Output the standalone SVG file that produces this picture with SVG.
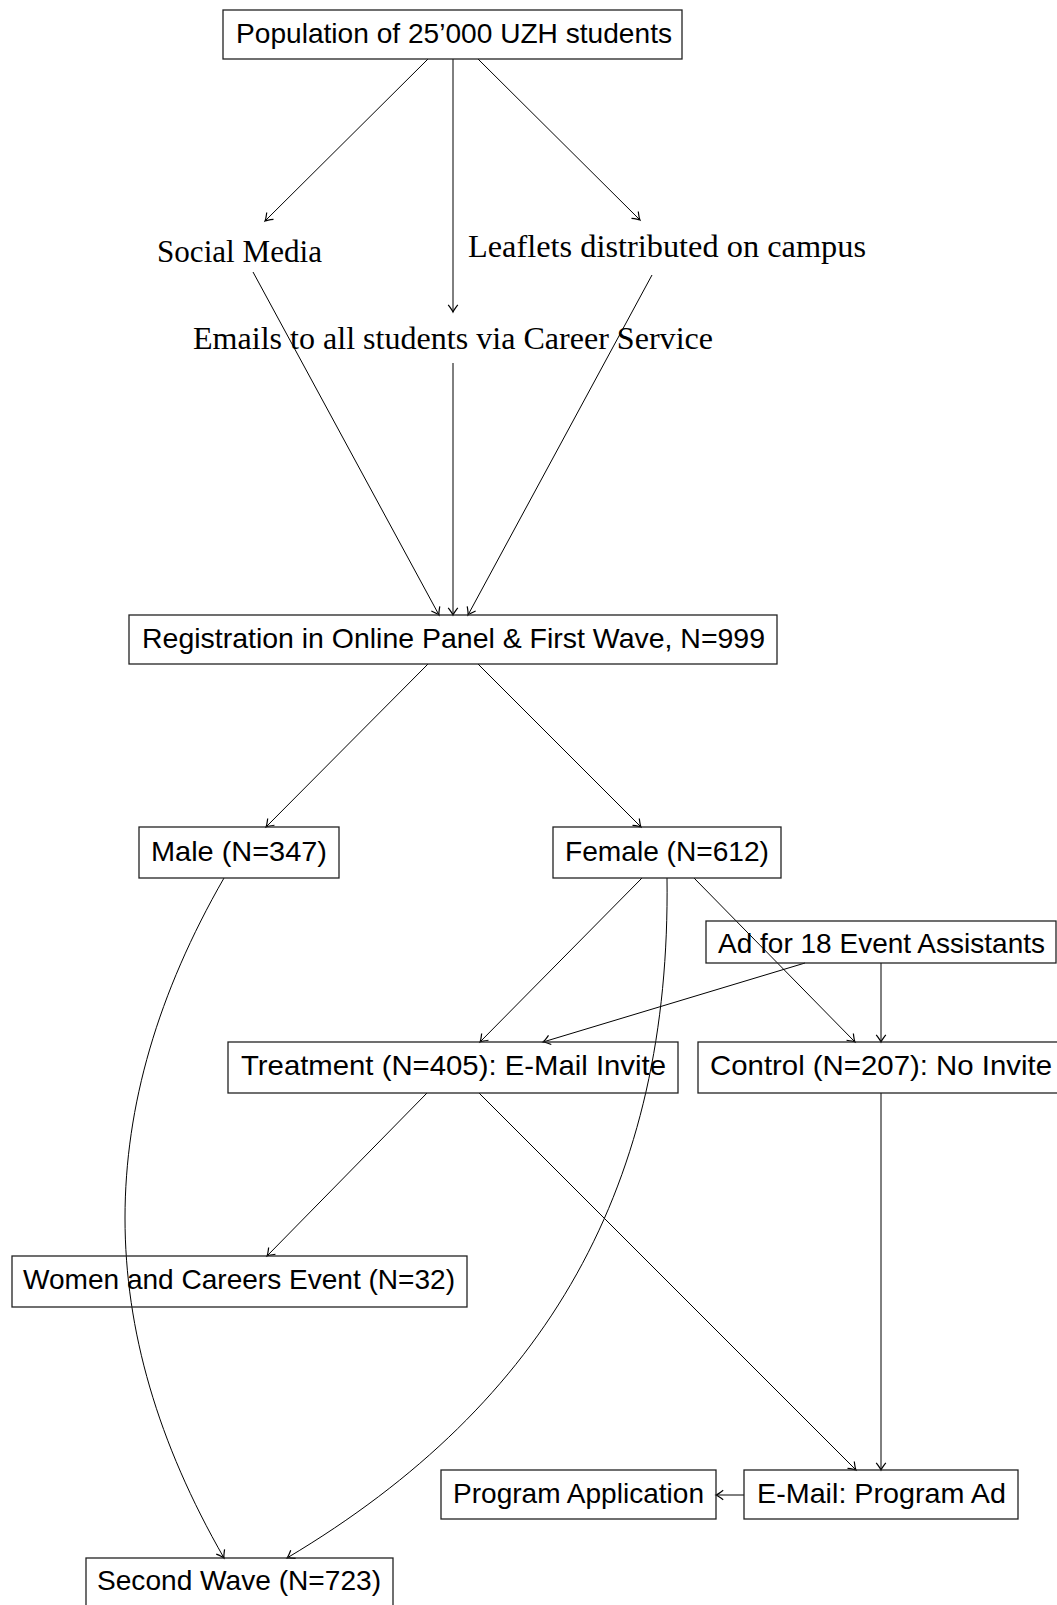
<svg xmlns="http://www.w3.org/2000/svg" width="1057" height="1605" viewBox="0 0 1057 1605">
<defs>
<style>
.box{fill:none;stroke:#222;stroke-width:1.3}
.t{font-family:"Liberation Sans",Arial,sans-serif;font-size:28px;fill:#000}
.s{font-family:"Liberation Serif","Times New Roman",serif;font-size:32px;fill:#000}
.e{fill:none;stroke:#000;stroke-width:1;marker-end:url(#arr)}
.p{fill:none;stroke:#000;stroke-width:1}
</style>
<marker id="arr" markerUnits="userSpaceOnUse" markerWidth="12" markerHeight="12" viewBox="-7 -5 8 10" refX="0" refY="0" orient="auto" overflow="visible">
<path d="M-6,-4 Q-2,-0.8 0,0 Q-2,0.8 -6,4" fill="none" stroke="#000" stroke-width="1"/>
</marker>
</defs>
<rect width="1057" height="1605" fill="#fff"/>

<g id="connectors">
<line class="e" x1="428" y1="59" x2="265" y2="221"/>
<line class="e" x1="453" y1="59" x2="453" y2="312"/>
<line class="e" x1="478" y1="59" x2="640" y2="220"/>
<line class="e" x1="253" y1="272" x2="439" y2="615"/>
<line class="e" x1="453" y1="363" x2="453" y2="615"/>
<line class="e" x1="652" y1="275" x2="468" y2="615"/>
<line class="e" x1="428" y1="664" x2="266" y2="827"/>
<line class="e" x1="478" y1="664" x2="641" y2="827"/>
<line class="e" x1="642" y1="878" x2="480" y2="1042"/>
<line class="e" x1="694" y1="878" x2="855" y2="1042"/>
<line class="e" x1="805" y1="963" x2="543" y2="1042"/>
<line class="e" x1="881" y1="963" x2="881" y2="1042"/>
<line class="e" x1="427" y1="1093" x2="267" y2="1256"/>
<line class="e" x1="479" y1="1093" x2="856" y2="1470"/>
<line class="e" x1="881" y1="1093" x2="881" y2="1470"/>
<line class="e" x1="744" y1="1495" x2="716" y2="1495"/>
<path class="e" d="M224,878 C92,1108 92,1328 224,1558"/>
<path class="e" d="M667,878 C671,1183 549,1402 287,1558"/>
</g>

<g id="population">
<rect class="box" x="223" y="10" width="459" height="49"/>
<text class="t" x="236" y="43" textLength="436" lengthAdjust="spacingAndGlyphs">Population of 25’000 UZH students</text>
</g>
<g id="social-media">
<text class="s" x="157" y="262" textLength="165" lengthAdjust="spacingAndGlyphs">Social Media</text>
</g>
<g id="leaflets">
<text class="s" x="468" y="257" textLength="398" lengthAdjust="spacingAndGlyphs">Leaflets distributed on campus</text>
</g>
<g id="emails">
<text class="s" x="193" y="349" textLength="520" lengthAdjust="spacingAndGlyphs">Emails to all students via Career Service</text>
</g>
<g id="registration">
<rect class="box" x="129" y="615" width="648" height="49"/>
<text class="t" x="142" y="648" textLength="623" lengthAdjust="spacingAndGlyphs">Registration in Online Panel &amp; First Wave, N=999</text>
</g>
<g id="male">
<rect class="box" x="139" y="827" width="200" height="51"/>
<text class="t" x="151" y="861" textLength="176" lengthAdjust="spacingAndGlyphs">Male (N=347)</text>
</g>
<g id="female">
<rect class="box" x="553" y="827" width="228" height="51"/>
<text class="t" x="565" y="861" textLength="204" lengthAdjust="spacingAndGlyphs">Female (N=612)</text>
</g>
<g id="ad-assistants">
<rect class="box" x="706" y="921" width="350" height="42"/>
<text class="t" x="718" y="953" textLength="327" lengthAdjust="spacingAndGlyphs">Ad for 18 Event Assistants</text>
</g>
<g id="treatment">
<rect class="box" x="228" y="1042" width="450" height="51"/>
<text class="t" x="241" y="1075" textLength="425" lengthAdjust="spacingAndGlyphs">Treatment (N=405): E-Mail Invite</text>
</g>
<g id="control">
<rect class="box" x="698" y="1042" width="366" height="51"/>
<text class="t" x="710" y="1075" textLength="342" lengthAdjust="spacingAndGlyphs">Control (N=207): No Invite</text>
</g>
<g id="women-careers">
<rect class="box" x="12" y="1256" width="455" height="51"/>
<text class="t" x="23" y="1289" textLength="432" lengthAdjust="spacingAndGlyphs">Women and Careers Event (N=32)</text>
</g>
<g id="program-application">
<rect class="box" x="441" y="1470" width="275" height="49"/>
<text class="t" x="453" y="1503" textLength="251" lengthAdjust="spacingAndGlyphs">Program Application</text>
</g>
<g id="email-program-ad">
<rect class="box" x="744" y="1470" width="274" height="49"/>
<text class="t" x="757" y="1503" textLength="249" lengthAdjust="spacingAndGlyphs">E-Mail: Program Ad</text>
</g>
<g id="second-wave">
<rect class="box" x="86" y="1558" width="307" height="50"/>
<text class="t" x="97" y="1590" textLength="284" lengthAdjust="spacingAndGlyphs">Second Wave (N=723)</text>
</g>
</svg>
